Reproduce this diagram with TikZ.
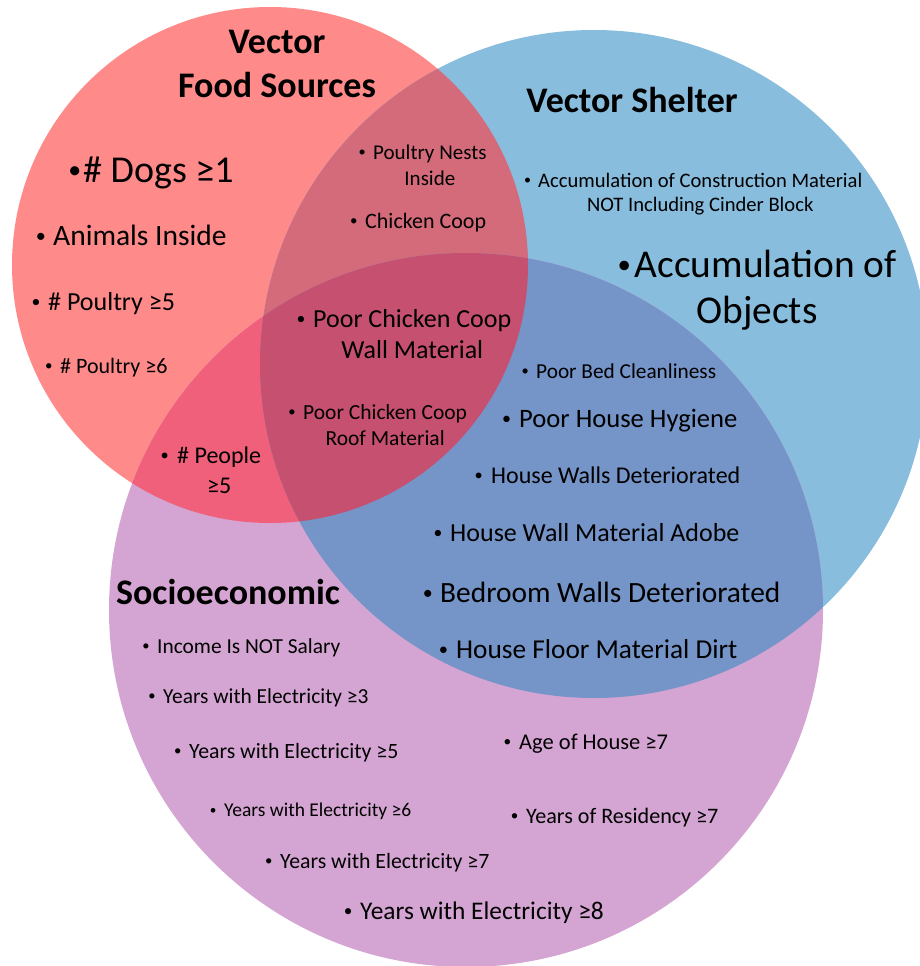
\documentclass[tikz,border=0pt]{standalone}
\usepackage{fontspec}
\setmainfont{Carlito}
\definecolor{cR}{HTML}{FF8A8A}
\definecolor{cB}{HTML}{88BDDE}
\definecolor{cP}{HTML}{D4A5D3}
\definecolor{cRB}{HTML}{D46B7B}
\definecolor{cRP}{HTML}{F0607A}
\definecolor{cBP}{HTML}{7594C8}
\definecolor{cRBP}{HTML}{C65070}
\newcommand\myfs[2]{\fontsize{#1}{#2}\selectfont}
\newcommand\dotb{\raisebox{0.1em}{\scalebox{0.68}{•}}}
\newcommand\bl[1]{\llap{\dotb\hspace{#1}}}
\newcommand\ml[1]{\begin{tabular}[t]{@{}c@{}}#1\end{tabular}}
\begin{document}
\begin{tikzpicture}[x=1pt,y=-1pt,
  txt/.style={anchor=base west, inner sep=0pt, text=black},
  head/.style={anchor=base, inner sep=0pt, text=black, font=\bfseries}]
\clip (0,0) rectangle (920,966);
\fill[white] (0,0) rectangle (920,966);
\def\cirR{(270,265) circle (258pt)}
\def\cirB{(594,364) circle (334pt)}
\def\cirP{(466,610) circle (357pt)}
\fill[cR] \cirR;
\fill[cB] \cirB;
\fill[cP] \cirP;
\begin{scope}\clip \cirR; \fill[cRB] \cirB; \end{scope}
\begin{scope}\clip \cirR; \fill[cRP] \cirP; \end{scope}
\begin{scope}\clip \cirB; \fill[cBP] \cirP; \end{scope}
\begin{scope}\clip \cirR; \clip \cirB; \fill[cRBP] \cirP; \end{scope}

% headings
\node[head] (hfood) at (277,53) {\myfs{36}{44}\ml{Vector\\Food Sources}};
\node[head] (hshelter) at (632,112) {\myfs{36}{44}Vector Shelter};
\node[head] (hsocio) at (228,604) {\myfs{36}{44}Socioeconomic};

% food sources only
\node[txt] (dogs) at (83,182) {\myfs{38}{44}\bl{0.05em}\# Dogs ≥1};
\node[txt] (animals) at (53,245) {\myfs{29.5}{34}\bl{0.25em}Animals Inside};
\node[txt] (poul5) at (48,310) {\myfs{26}{30}\bl{0.3em}\# Poultry ≥5};
\node[txt] (poul6) at (60,373) {\myfs{22}{26}\bl{0.35em}\# Poultry ≥6};

% food & shelter
\node[txt] (nests) at (373,159) {\myfs{21}{26}\bl{0.35em}\ml{Poultry Nests\\Inside}};
\node[txt] (coop) at (365,228) {\myfs{22}{26}\bl{0.35em}Chicken Coop};

% all three
\node[txt] (wall) at (313,327) {\myfs{26}{31}\bl{0.3em}\ml{Poor Chicken Coop\\Wall Material}};
\node[txt] (roof) at (303,419) {\myfs{21.5}{26}\bl{0.35em}\ml{Poor Chicken Coop\\Roof Material}};

% food & socio
\node[txt] (people) at (177,463) {\myfs{24}{30}\bl{0.35em}\ml{\# People\\≥5}};

% shelter only
\node[txt] (constr) at (538,187) {\myfs{20.6}{24}\bl{0.35em}\ml{Accumulation of Construction Material\\NOT Including Cinder Block}};
\node[head, font=\mdseries] (accum) at (757,277) {\myfs{39.4}{46}\ml{\dotb\hspace{0.1em}Accumulation of\\Objects}};

% shelter & socio
\node[txt] (bed) at (536,378) {\myfs{21.3}{26}\bl{0.35em}Poor Bed Cleanliness};
\node[txt] (hyg) at (519,427) {\myfs{26.6}{30}\bl{0.3em}Poor House Hygiene};
\node[txt] (hwalls) at (491,483) {\myfs{24}{28}\bl{0.35em}House Walls Deteriorated};
\node[txt] (adobe) at (450,541) {\myfs{26}{30}\bl{0.3em}House Wall Material Adobe};
\node[txt] (bedroom) at (440,602) {\myfs{29.4}{34}\bl{0.25em}Bedroom Walls Deteriorated};
\node[txt] (floor) at (456,658) {\myfs{27.3}{32}\bl{0.3em}House Floor Material Dirt};

% socio only
\node[txt] (income) at (157,653) {\myfs{21.4}{26}\bl{0.35em}Income Is NOT Salary};
\node[txt] (e3) at (163,703) {\myfs{21.4}{26}\bl{0.35em}Years with Electricity ≥3};
\node[txt] (e5) at (189,758) {\myfs{21.8}{26}\bl{0.35em}Years with Electricity ≥5};
\node[txt] (e6) at (224,816) {\myfs{19.5}{24}\bl{0.4em}Years with Electricity ≥6};
\node[txt] (e7) at (280,868) {\myfs{21.8}{26}\bl{0.35em}Years with Electricity ≥7};
\node[txt] (e8) at (360,919) {\myfs{25.4}{30}\bl{0.3em}Years with Electricity ≥8};
\node[txt] (age) at (519,749) {\myfs{22.5}{26}\bl{0.35em}Age of House ≥7};
\node[txt] (resid) at (526,823) {\myfs{22.1}{26}\bl{0.35em}Years of Residency ≥7};
\end{tikzpicture}
\end{document}
